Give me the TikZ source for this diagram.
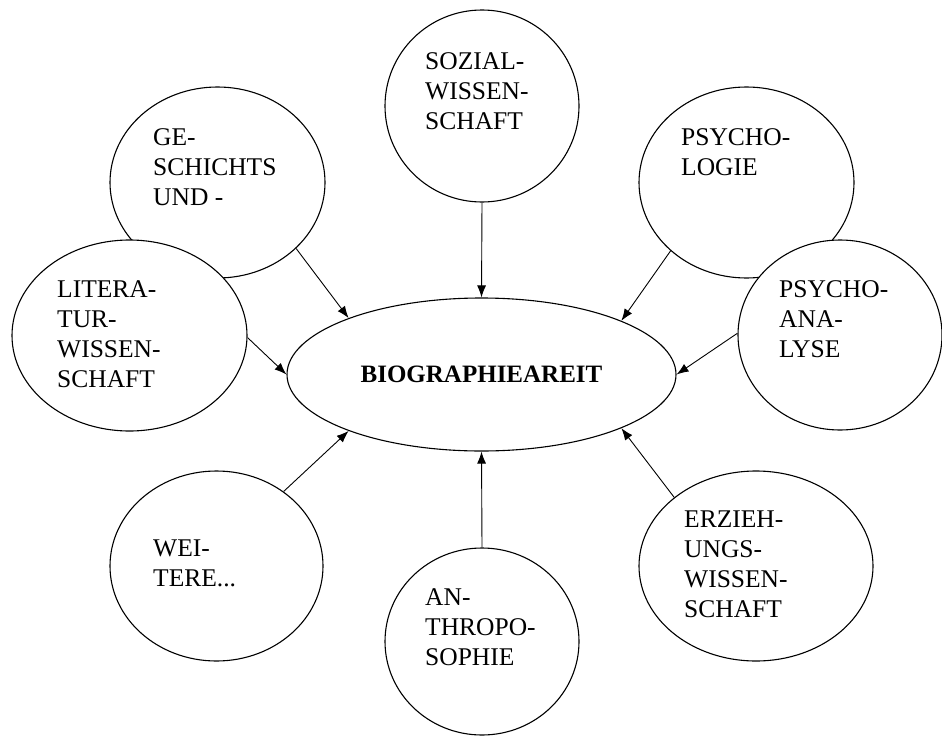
\documentclass[tikz,border=0pt]{standalone}
\usepackage{fontspec}
\setmainfont{Liberation Serif}
\usetikzlibrary{shapes.geometric,arrows.meta}
\begin{document}
\begin{tikzpicture}[x=1pt,y=-1pt,
        field/.style={ellipse, draw, line width=1.1pt, fill=white, inner sep=0pt},
        fieldtext/.style={anchor=north west, inner sep=0pt, align=left, font=\fontsize{25.5}{30}\selectfont},
        feed/.style={-{Latex[length=12pt,width=9pt]}, line width=0.9pt}]
    \useasboundingbox (0,0) rectangle (942,736);

    % Disciplines around
    \node[field, minimum width=194pt, minimum height=192pt] (soz) at (482,106) {};
    \node[field, minimum width=215pt, minimum height=191pt] (gesch) at (217.5,182.5) {};
    \node[field, minimum width=235pt, minimum height=191pt] (lit) at (129.5,335.5) {}; % on top of gesch
    \node[field, minimum width=215pt, minimum height=191pt] (psyl) at (746.5,182.5) {};
    \node[field, minimum width=204pt, minimum height=190pt] (psa) at (840,335) {}; % on top of psyl
    \node[field, minimum width=213pt, minimum height=190pt] (weit) at (216.5,566) {};
    \node[field, minimum width=194pt, minimum height=187pt] (anth) at (482,641.5) {};
    \node[field, minimum width=234pt, minimum height=190pt] (erz) at (756,566) {};

    % Centre
    \node[field, minimum width=389pt, minimum height=153pt, font=\fontsize{25}{30}\selectfont\bfseries] (bio) at (481.5,374.5) {BIOGRAPHIEAREIT};

    % Texts in the circles
    \node[fieldtext] (sozt) at (425,52) {SOZIAL-\\WISSEN-\\SCHAFT};
    \node[fieldtext] (gescht) at (153,128) {GE-\\SCHICHTS\\UND -};
    \node[fieldtext] (litt) at (57,280) {LITERA-\\TUR-\\WISSEN-\\SCHAFT};
    \node[fieldtext] (psylt) at (681,128) {PSYCHO-\\LOGIE};
    \node[fieldtext] (psat) at (779,280) {PSYCHO-\\ANA-\\LYSE};
    \node[fieldtext] (weitt) at (153,540) {WEI-\\TERE...};
    \node[fieldtext] (antht) at (425,588) {AN-\\THROPO-\\SOPHIE};
    \node[fieldtext] (erzt) at (684,511) {ERZIEH-\\UNGS-\\WISSEN-\\SCHAFT};

    % Arrows into the centre
    \draw[feed] (soz.south) -- (bio.north);
    \draw[feed] (gesch.-40.7) -- (bio.157.8);
    \draw[feed] (lit.-1.5) -- (bio.180);
    \draw[feed] (psyl.-138.5) -- (bio.21.3);
    \draw[feed] (psa.179) -- (bio.0);
    \draw[feed] (weit.48) -- (bio.-157);
    \draw[feed] (anth.north) -- (bio.south);
    \draw[feed] (erz.140.7) -- (bio.-21.4);

\end{tikzpicture}
\end{document}
